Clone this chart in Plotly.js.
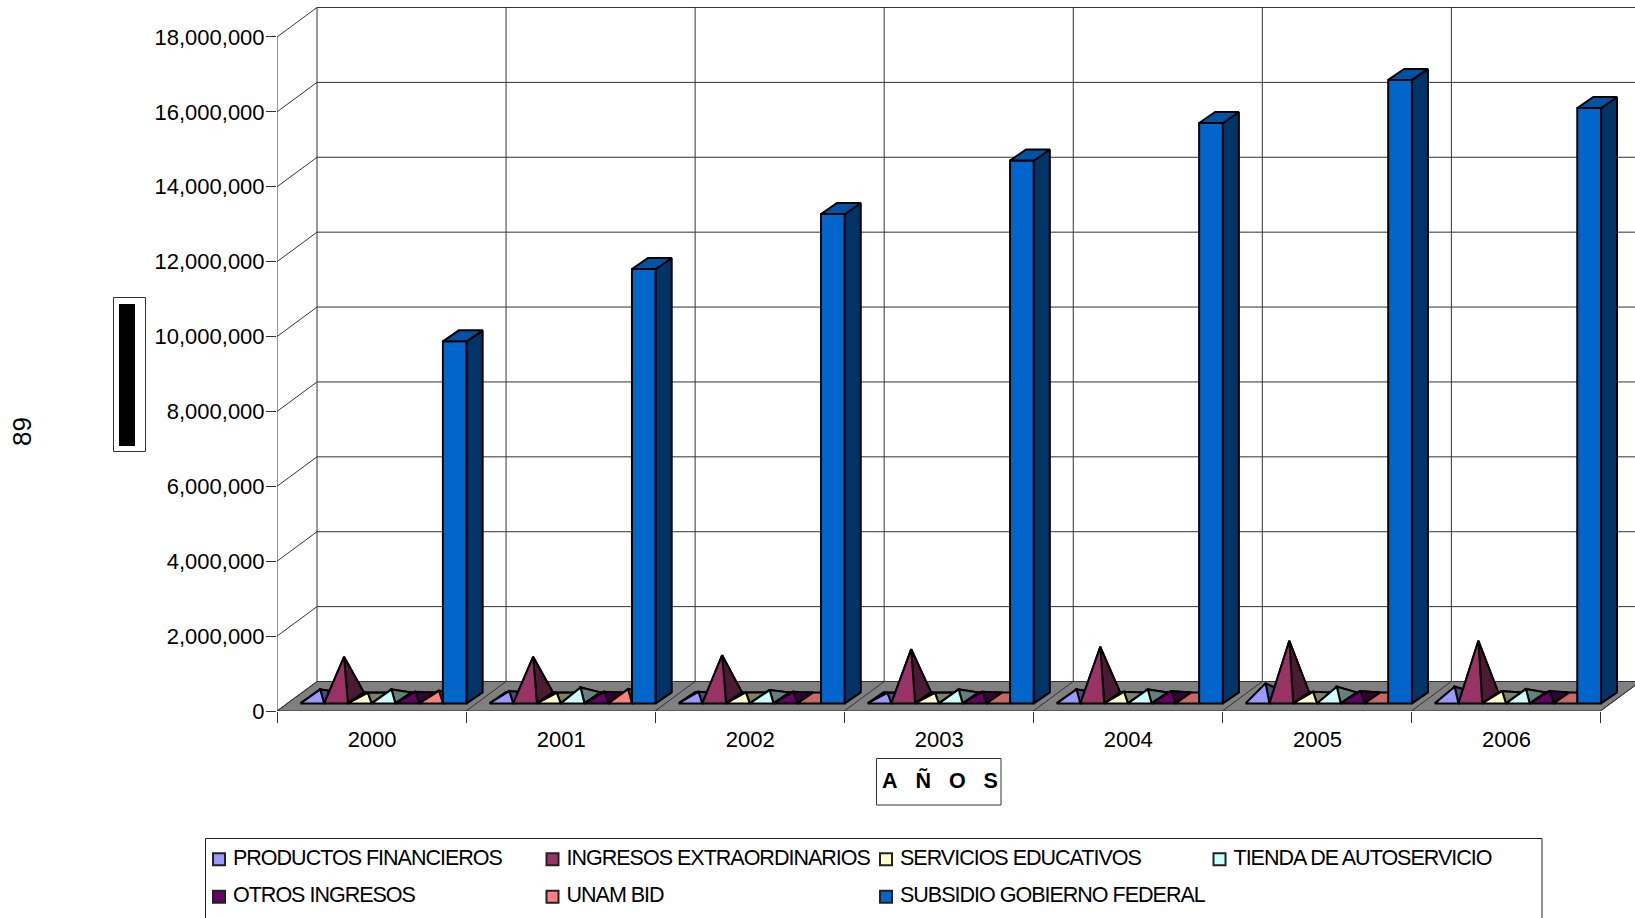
<!DOCTYPE html>
<html lang="es">
<head>
<meta charset="utf-8">
<title>Ingresos por fuente, 2000-2006</title>
<script src="https://cdn.plot.ly/plotly-3.0.1.min.js"></script>
<style>
  html, body { margin: 0; padding: 0; background: #fff; overflow: hidden; }
  #chart { width: 1635px; height: 918px; }
  .legendtext { letter-spacing: -1px; }
  .legend .legendsymbols { transform: translate(6px, 5px); }
</style>
</head>
<body>
<div id="chart"></div>
<script>
// Income by source per year
const years = ['2000', '2001', '2002', '2003', '2004', '2005', '2006'];
const productosFinancieros = [227000, 180000, 163000, 136000, 227000, 387000, 297000];
const ingresosExtraordinarios = [1098000, 1098000, 1143000, 1303000, 1365000, 1525000, 1525000];
const serviciosEducativos = [136000, 136000, 147000, 136000, 163000, 163000, 180000];
const tiendaAutoservicio = [227000, 280000, 208000, 227000, 227000, 297000, 235000];
const otrosIngresos = [163000, 163000, 163000, 163000, 180000, 180000, 180000];
const unamBid = [190000, 235000, 0, 0, 0, 0, 0];
const subsidioFederal = [9670000, 11600000, 13070000, 14500000, 15500000, 16650000, 15900000];

const pyramidNames = ['PRODUCTOS FINANCIEROS', 'INGRESOS EXTRAORDINARIOS', 'SERVICIOS EDUCATIVOS',
                      'TIENDA DE AUTOSERVICIO', 'OTROS INGRESOS', 'UNAM BID'];
const barName = 'SUBSIDIO GOBIERNO FEDERAL';
const pyramidValues = [productosFinancieros, ingresosExtraordinarios, serviciosEducativos,
                       tiendaAutoservicio, otrosIngresos, unamBid];
const yTicks = [0, 2e6, 4e6, 6e6, 8e6, 10e6, 12e6, 14e6, 16e6, 18e6];

// Face colours: [lit front, shaded side, flat base when a value is zero]
const pyramidColors = [
  ['#9999FF', '#4D4D80', '#7A7ACC'],
  ['#993366', '#4D1A33', '#7A2952'],
  ['#FFFFCC', '#808066', '#CCCCA3'],
  ['#CCFFFF', '#668080', '#A3CCCC'],
  ['#660066', '#330033', '#520052'],
  ['#FF8080', '#804040', '#C86864']
];
const barColors = { front: '#0066CC', top: '#0052A3', side: '#003366' };

// Pixel metrics of the plot, used to express the 3-D projection in axis units
const L = 277, T = 5, W = 1358, H = 706;
const CAT_PX = 189.06, VALUE_PER_PX = 2e6 / 74.89;
const dx = px => px / CAT_PX;
const dy = px => px * VALUE_PER_PX;

const WALL_X = dx(40), WALL_Y = dy(29.5);      // depth of the floor and walls
const DEPTH_X = dx(16), DEPTH_Y = dy(11);      // depth of a mark
const BASE_X = dx(23.4), BASE_Y = dy(7.6);     // front-left corner of the first mark
const SLOT = dx(23.75);                        // width of one series slot
const MARK_LINE = 2;

const traces = [];

function poly(xs, ys, fill, width, color) {
  traces.push({
    type: 'scatter', mode: 'lines', x: xs.concat(xs[0]), y: ys.concat(ys[0]),
    fill: 'toself', fillcolor: fill, line: { color: color || '#000', width: width },
    showlegend: false, hoverinfo: 'skip', cliponaxis: false
  });
}
function line(xs, ys, color, width) {
  traces.push({
    type: 'scatter', mode: 'lines', x: xs, y: ys,
    line: { color: color || '#333', width: width || 1 },
    showlegend: false, hoverinfo: 'skip', cliponaxis: false
  });
}

// Floor slab
poly([0, years.length, years.length + WALL_X, WALL_X], [0, 0, WALL_Y, WALL_Y], '#808080', 1, '#333');

// Back wall and side wall grid
yTicks.slice(1).forEach(v => {
  line([0, WALL_X, years.length + WALL_X], [v, v + WALL_Y, v + WALL_Y]);
});
line([0, 0], [0, yTicks[yTicks.length - 1]]);
years.forEach((_, i) => {
  line([i + WALL_X, i + WALL_X], [WALL_Y, yTicks[yTicks.length - 1] + WALL_Y], '#333');
  line([i, i + WALL_X], [0, WALL_Y]);
});
line([years.length, years.length + WALL_X], [0, WALL_Y]);

// Marks, painted left to right so nearer faces overlap earlier ones
years.forEach((_, i) => {
  pyramidValues.forEach((series, k) => {
    const x0 = i + BASE_X + k * SLOT, x1 = x0 + SLOT, b = BASE_Y;
    const v = series[i], c = pyramidColors[k];
    const bx = [x0, x1, x1 + DEPTH_X, x0 + DEPTH_X];
    const by = [b, b, b + DEPTH_Y, b + DEPTH_Y];
    if (v === 0) { poly(bx, by, c[2], MARK_LINE); return; }
    const ax = x0 + SLOT / 2 + DEPTH_X / 2, ay = b + DEPTH_Y / 2 + v;
    poly([bx[3], bx[2], ax], [by[3], by[2], ay], c[1], MARK_LINE);
    poly([bx[0], bx[3], ax], [by[0], by[3], ay], c[0], MARK_LINE);
    poly([bx[1], bx[2], ax], [by[1], by[2], ay], c[1], MARK_LINE);
    poly([bx[0], bx[1], ax], [by[0], by[1], ay], c[0], MARK_LINE);
  });
  const x0 = i + BASE_X + 6 * SLOT, x1 = x0 + SLOT, b = BASE_Y, t = b + subsidioFederal[i];
  poly([x0, x1, x1, x0], [b, b, t, t], barColors.front, MARK_LINE);
  poly([x1, x1 + DEPTH_X, x1 + DEPTH_X, x1], [b, b + DEPTH_Y, t + DEPTH_Y, t], barColors.side, MARK_LINE);
  poly([x0, x1, x1 + DEPTH_X, x0 + DEPTH_X], [t, t, t + DEPTH_Y, t + DEPTH_Y], barColors.top, MARK_LINE);
});

// Legend swatches
pyramidNames.concat(barName).forEach((name, k) => {
  const color = k < 6 ? pyramidColors[k][0] : barColors.front;
  traces.push({
    type: 'scatter', mode: 'markers', x: [null], y: [null],
    name: '<span style="font-size:21.5px">' + name + '</span>',
    marker: { symbol: 'square', size: 12, color: color, line: { color: '#222', width: 1.5 } },
    hoverinfo: 'skip', showlegend: true
  });
});

const pxX = p => (p - L) / W;
const pxY = p => (T + H - p) / H;

const layout = {
  width: 1635, height: 918,
  margin: { l: L, r: 0, t: T, b: 918 - T - H, pad: 0, autoexpand: false },
  paper_bgcolor: '#fff', plot_bgcolor: 'rgba(0,0,0,0)',
  font: { family: '"Liberation Sans", Arial, sans-serif', size: 22, color: '#000' },
  showlegend: true,
  xaxis: {
    range: [0, W / CAT_PX], showgrid: false, zeroline: false, showline: false,
    tickmode: 'array', tickvals: years.map((_, i) => i + 0.503), ticktext: years,
    ticks: 'outside', ticklen: 9, tickcolor: 'rgba(0,0,0,0)',
    tickfont: { size: 22 },
    minor: { tickmode: 'array', tickvals: years.map((_, i) => i).concat(years.length),
             ticks: 'outside', ticklen: 11, tickcolor: '#333', tickwidth: 1, showgrid: false }
  },
  yaxis: {
    range: [0, H * VALUE_PER_PX], showgrid: false, zeroline: false, showline: false,
    tickmode: 'array', tickvals: yTicks, tickformat: ',d',
    ticks: 'outside', ticklen: 10, tickcolor: '#333', tickwidth: 1,
    ticklabelstandoff: -3,
    tickfont: { size: 22 }
  },
  legend: {
    orientation: 'h', xref: 'paper', yref: 'paper',
    x: pxX(193), xanchor: 'left', y: pxY(830.5), yanchor: 'top',
    bgcolor: 'rgba(0,0,0,0)', borderwidth: 0,
    font: { size: 26.5, family: '"Liberation Sans", Arial, sans-serif', color: '#000' },
    itemwidth: 30, itemsizing: 'constant',
    entrywidth: 288.5, entrywidthmode: 'pixels', traceorder: 'normal',
    itemclick: false, itemdoubleclick: false, maxheight: 1
  },
  shapes: [
    { type: 'rect', xref: 'paper', yref: 'paper', x0: pxX(113.5), x1: pxX(145.5), y0: pxY(297.5), y1: pxY(451.5),
      line: { color: '#333', width: 1 }, fillcolor: '#fff' },
    { type: 'rect', xref: 'paper', yref: 'paper', x0: pxX(119), x1: pxX(135), y0: pxY(304), y1: pxY(446),
      line: { width: 0 }, fillcolor: '#000' },
    { type: 'rect', xref: 'paper', yref: 'paper', x0: pxX(876.5), x1: pxX(1001), y0: pxY(758.5), y1: pxY(805),
      line: { color: '#333', width: 1 }, fillcolor: 'rgba(0,0,0,0)' },
    { type: 'rect', xref: 'paper', yref: 'paper', x0: pxX(205.5), x1: pxX(1542), y0: pxY(838.5), y1: pxY(930),
      line: { color: '#222', width: 1 }, fillcolor: 'rgba(0,0,0,0)' }
  ],
  annotations: [
    { xref: 'paper', yref: 'paper', x: pxX(939.5), y: pxY(780), xanchor: 'center', yanchor: 'middle',
      text: '<b>A\u00A0\u00A0\u00A0Ñ\u00A0\u00A0\u00A0O\u00A0\u00A0\u00A0S</b>', showarrow: false,
      font: { size: 21.5, color: '#000' } },
    { xref: 'paper', yref: 'paper', x: pxX(22), y: pxY(432), xanchor: 'center', yanchor: 'middle',
      text: '89', textangle: -90, showarrow: false, font: { size: 26, color: '#000' } }
  ]
};

Plotly.newPlot('chart', traces, layout, { displayModeBar: false, staticPlot: true });
</script>
</body>
</html>
